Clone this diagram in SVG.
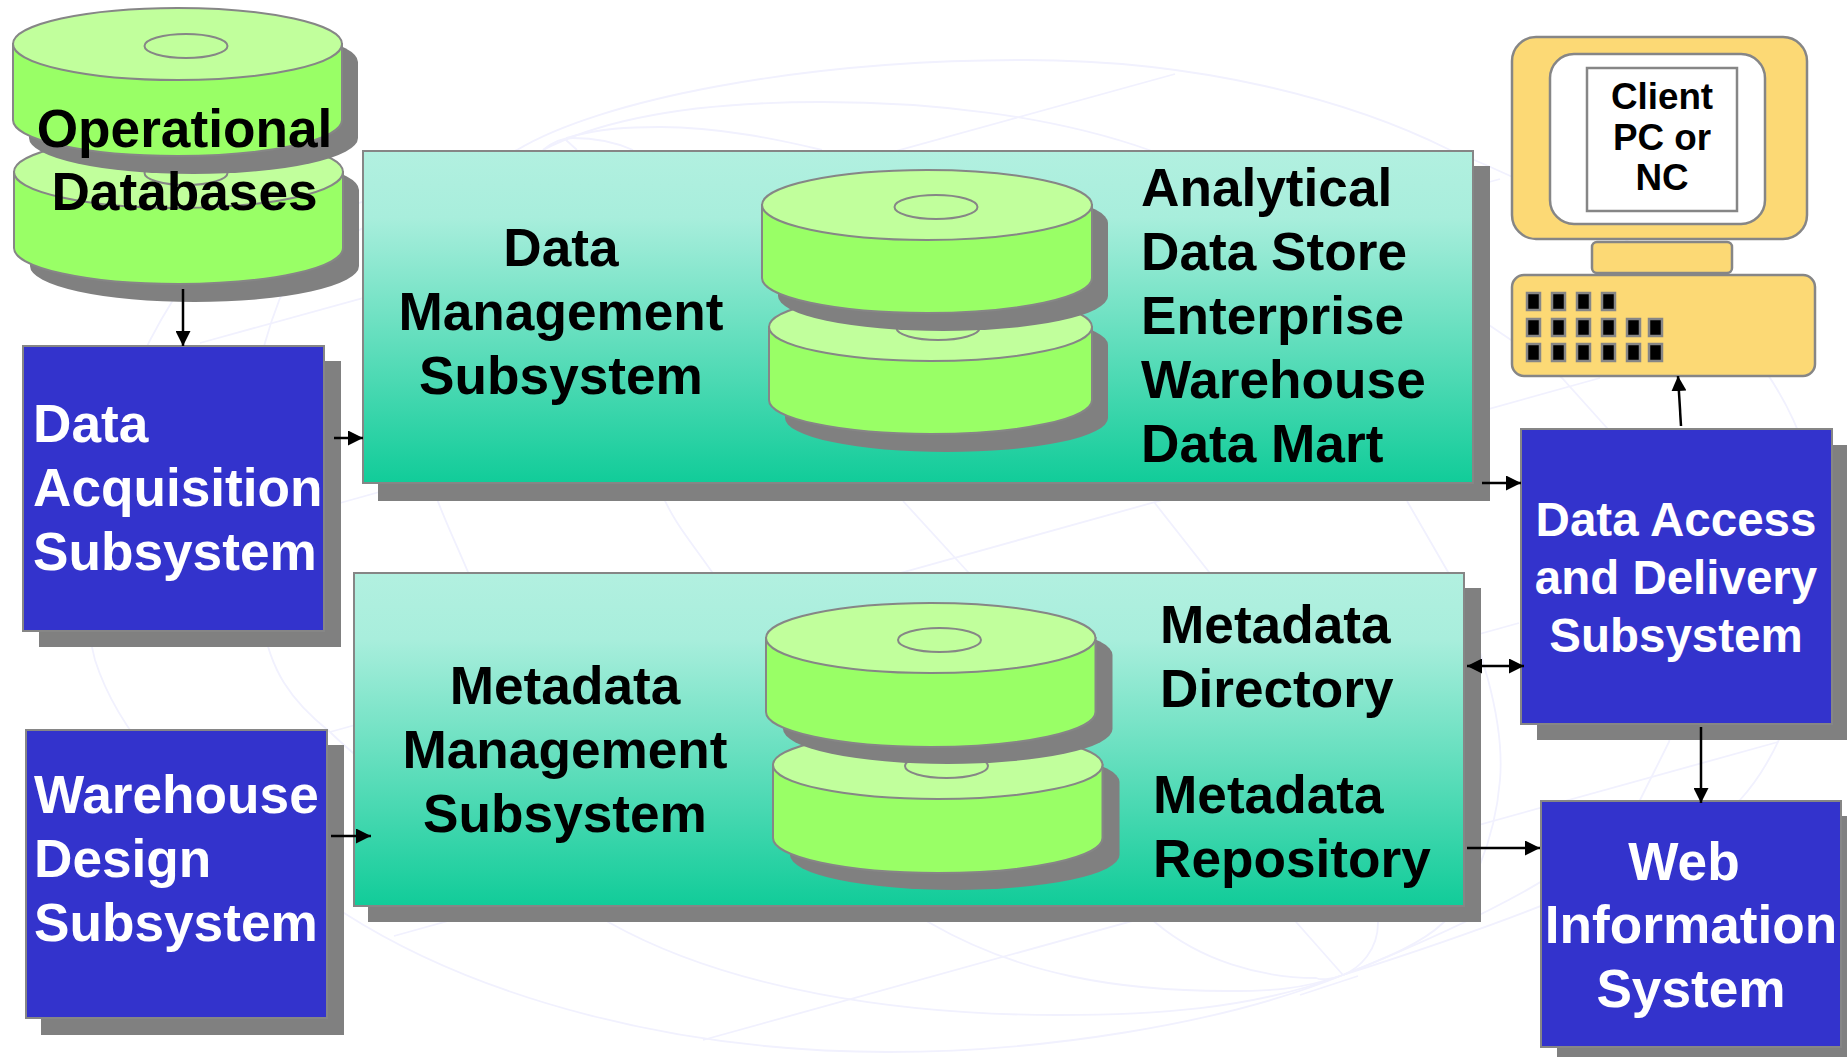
<svg xmlns="http://www.w3.org/2000/svg" width="1847" height="1057" viewBox="0 0 1847 1057">
<style>
.t{font-family:"Liberation Sans",Arial,sans-serif;font-weight:bold;font-size:53.200px;fill:#000}
.w{fill:#fff}.m{text-anchor:middle}
.box{fill:#3333cc;stroke:#868686;stroke-width:2}
.sh{fill:#808080}
.panel{fill:url(#pg);stroke:#868686;stroke-width:2}
.body{fill:#99ff66;stroke:#868686;stroke-width:2}
.top{fill:#c1ff9c;stroke:#868686;stroke-width:2}
.hole{fill:none;stroke:#868686;stroke-width:2}
.pc{fill:#fcd975;stroke:#868686;stroke-width:2.5}
.scr{fill:#fff;stroke:#868686;stroke-width:2.5}
.key{fill:#000;stroke:#868686;stroke-width:2.5}
.c{stroke:#000;stroke-width:2.5;fill:none}
.ah{fill:#000}
.bg{fill:none;stroke:#f1f1fe;stroke-width:1.800}
</style>
<defs>
<linearGradient id="pg" x1="0" y1="0" x2="0" y2="1"><stop offset="0" stop-color="#b2f0e0"/><stop offset="0.2" stop-color="#a8eedc"/><stop offset="1" stop-color="#11cc99"/></linearGradient>
<marker id="a" viewBox="0 0 10 10" refX="10" refY="5" markerWidth="15" markerHeight="15" markerUnits="userSpaceOnUse" orient="auto-start-reverse"><path class="ah" d="M0 0L10 5L0 10Z"/></marker>
</defs>
<g id="background">
<path class="bg" d="M517 150C600 100 800 60 1025 60C1200 60 1350 100 1450 150C1650 230 1830 360 1820 560C1815 650 1790 745 1740 800C1680 860 1500 925 1343 975"/>
<path class="bg" d="M1343 975C1220 1025 1040 1052 888 1052C680 1052 480 1000 344 913C250 855 130 770 95 660C65 550 110 400 173 300C250 230 400 190 517 150"/>
<path class="bg" d="M1343 975C1250 1010 1150 1015 1058 1015C900 1015 730 990 610 923C520 870 400 800 330 732C290 700 270 670 262 620C240 500 240 400 280 298C340 220 450 190 517 150"/>
<path class="bg" d="M1343 975C1300 990 1270 991 1227 991C1120 991 1020 975 930 923C700 800 510 680 468 572C450 530 440 510 430 480"/>
<path class="bg" d="M1343 975C1330 980 1320 980 1316 978C1260 978 1200 960 1156 923C1000 800 760 660 712 572C690 540 675 525 660 490"/>
<path class="bg" d="M543 150C620 110 730 102 822 102C930 102 1050 115 1149 150C1250 190 1440 280 1562 378L1607 428C1660 500 1690 650 1669 742L1640 800C1600 860 1480 920 1343 975"/>
<path class="bg" d="M566 138C600 128 630 127 660 127C720 127 780 140 822 150M1407 501L1448 572C1480 640 1505 720 1500 780C1495 840 1470 900 1443 923C1420 945 1380 960 1343 975"/>
<path class="bg" d="M543 150C555 140 565 138 573 138C595 138 615 142 633 150M1154 502L1209 572C1290 740 1380 860 1378 923C1378 950 1360 968 1343 975"/>
<path class="bg" d="M566 140L577 150M903 501L968 572C1070 700 1200 800 1297 923L1343 975"/>
<path class="bg" d="M1175 74L200 343M1600 378L330 732M1500 179L340 503M1778 742L703 1040M1519 623L394 936M1358 976L1300 995"/>
</g>
<g id="operational-databases">
<path class="sh" transform="translate(16 18)" d="M14 172V248A164.500 36 0 0 0 343 248V172A164.500 36 0 0 0 14 172Z"/>
<path class="body" d="M14 172V248A164.500 36 0 0 0 343 248V172Z"/>
<ellipse class="top" cx="178.500" cy="172" rx="164.500" ry="36"/>
<ellipse class="hole" cx="186" cy="173" rx="41.500" ry="12"/>
<path class="sh" transform="translate(16 18)" d="M13 44V120A164.500 36 0 0 0 342 120V44A164.500 36 0 0 0 13 44Z"/>
<path class="body" d="M13 44V120A164.500 36 0 0 0 342 120V44Z"/>
<ellipse class="top" cx="177.500" cy="44" rx="164.500" ry="36"/>
<ellipse class="hole" cx="186" cy="46" rx="41.500" ry="12"/>
<text class="t m" x="184.500" y="147">Operational</text>
<text class="t m" x="184.500" y="210">Databases</text>
</g>
<g id="data-acquisition">
<rect class="sh" x="39" y="361" width="302" height="286"/>
<rect class="box" x="23" y="346" width="301" height="285"/>
<text class="t w" x="33" y="442">Data</text>
<text class="t w" x="33" y="506">Acquisition</text>
<text class="t w" x="33" y="570">Subsystem</text>
</g>
<g id="warehouse-design">
<rect class="sh" x="41" y="745" width="303" height="290"/>
<rect class="box" x="26" y="730" width="301" height="288"/>
<text class="t w" x="34" y="813">Warehouse</text>
<text class="t w" x="34" y="877">Design</text>
<text class="t w" x="34" y="941">Subsystem</text>
</g>
<g id="data-management">
<rect class="sh" x="378" y="166" width="1112" height="335"/>
<rect class="panel" x="363" y="151" width="1110" height="332"/>
<path class="sh" transform="translate(16 18)" d="M769 327V400A161.500 34 0 0 0 1092 400V327A161.500 34 0 0 0 769 327Z"/>
<path class="body" d="M769 327V400A161.500 34 0 0 0 1092 400V327Z"/>
<ellipse class="top" cx="930.500" cy="327" rx="161.500" ry="34"/>
<ellipse class="hole" cx="938" cy="328" rx="41.500" ry="12"/>
<path class="sh" transform="translate(16 18)" d="M762 205V278A165 35 0 0 0 1092 278V205A165 35 0 0 0 762 205Z"/>
<path class="body" d="M762 205V278A165 35 0 0 0 1092 278V205Z"/>
<ellipse class="top" cx="927" cy="205" rx="165" ry="35"/>
<ellipse class="hole" cx="936" cy="207" rx="41.500" ry="12"/>
<text class="t m" x="561" y="266">Data</text>
<text class="t m" x="561" y="330">Management</text>
<text class="t m" x="561" y="394">Subsystem</text>
<text class="t" x="1141" y="206">Analytical</text>
<text class="t" x="1141" y="270">Data Store</text>
<text class="t" x="1141" y="334">Enterprise</text>
<text class="t" x="1141" y="398">Warehouse</text>
<text class="t" x="1141" y="462">Data Mart</text>
</g>
<g id="metadata-management">
<rect class="sh" x="368" y="588" width="1113" height="334"/>
<rect class="panel" x="354" y="573" width="1110" height="333"/>
<path class="sh" transform="translate(17 17)" d="M773 765V838A164.750 35 0 0 0 1102.500 838V765A164.750 35 0 0 0 773 765Z"/>
<path class="body" d="M773 765V838A164.750 35 0 0 0 1102.500 838V765Z"/>
<ellipse class="top" cx="937.750" cy="765" rx="164.750" ry="34"/>
<ellipse class="hole" cx="946.500" cy="766" rx="41.500" ry="12"/>
<path class="sh" transform="translate(17 17)" d="M766 638V712A164.750 35 0 0 0 1095.500 712V638A164.750 35 0 0 0 766 638Z"/>
<path class="body" d="M766 638V712A164.750 35 0 0 0 1095.500 712V638Z"/>
<ellipse class="top" cx="930.750" cy="638" rx="164.750" ry="35"/>
<ellipse class="hole" cx="939.500" cy="640" rx="41.500" ry="12"/>
<text class="t m" x="565" y="704">Metadata</text>
<text class="t m" x="565" y="768">Management</text>
<text class="t m" x="565" y="832">Subsystem</text>
<text class="t" x="1160" y="643">Metadata</text>
<text class="t" x="1160" y="707">Directory</text>
<text class="t" x="1153" y="813">Metadata</text>
<text class="t" x="1153" y="877">Repository</text>
</g>
<g id="client-pc">
<rect class="pc" x="1512" y="37" width="295" height="202" rx="24"/>
<rect class="scr" x="1550" y="54" width="215" height="170" rx="24"/>
<rect class="scr" x="1587" y="68" width="150" height="143"/>
<rect class="pc" x="1592" y="242" width="140" height="31" rx="5"/>
<rect class="pc" x="1512" y="275" width="303" height="101" rx="12"/>
<g>
<rect class="key" x="1527" y="293" width="13" height="17"/><rect class="key" x="1552" y="293" width="13" height="17"/><rect class="key" x="1577" y="293" width="13" height="17"/><rect class="key" x="1602" y="293" width="13" height="17"/>
<rect class="key" x="1527" y="319" width="13" height="17"/><rect class="key" x="1552" y="319" width="13" height="17"/><rect class="key" x="1577" y="319" width="13" height="17"/><rect class="key" x="1602" y="319" width="13" height="17"/><rect class="key" x="1627" y="319" width="13" height="17"/><rect class="key" x="1649" y="319" width="13" height="17"/>
<rect class="key" x="1527" y="344" width="13" height="17"/><rect class="key" x="1552" y="344" width="13" height="17"/><rect class="key" x="1577" y="344" width="13" height="17"/><rect class="key" x="1602" y="344" width="13" height="17"/><rect class="key" x="1627" y="344" width="13" height="17"/><rect class="key" x="1649" y="344" width="13" height="17"/>
</g>
<text class="t m" style="font-size:36.800px" x="1662" y="109">Client</text>
<text class="t m" style="font-size:36.800px" x="1662" y="150">PC or</text>
<text class="t m" style="font-size:36.800px" x="1662" y="190">NC</text>
</g>
<g id="data-access">
<rect class="sh" x="1537" y="445" width="310" height="295"/>
<rect class="box" x="1521" y="429" width="311" height="295"/>
<text class="t w m" style="font-size:47.500px" x="1676" y="536">Data Access</text>
<text class="t w m" style="font-size:47.500px" x="1676" y="594">and Delivery</text>
<text class="t w m" style="font-size:47.500px" x="1676" y="652">Subsystem</text>
</g>
<g id="web-information">
<rect class="sh" x="1557" y="816" width="290" height="241"/>
<rect class="box" x="1541" y="801" width="300" height="246"/>
<text class="t w m" x="1684" y="880">Web</text>
<text class="t w m" x="1691" y="943">Information</text>
<text class="t w m" x="1691" y="1007">System</text>
</g>
<g id="connectors">
<path class="c" marker-end="url(#a)" d="M183 289V346"/>
<path class="c" marker-end="url(#a)" d="M334 438H363"/>
<path class="c" marker-end="url(#a)" d="M1482 483H1521"/>
<path class="c" marker-end="url(#a)" d="M1681 426L1678 376"/>
<path class="c" marker-start="url(#a)" marker-end="url(#a)" d="M1467 666H1524"/>
<path class="c" marker-end="url(#a)" d="M1701 727V803"/>
<path class="c" marker-end="url(#a)" d="M1467 848H1540"/>
<path class="c" marker-end="url(#a)" d="M331 836H371"/>
</g>
</svg>
